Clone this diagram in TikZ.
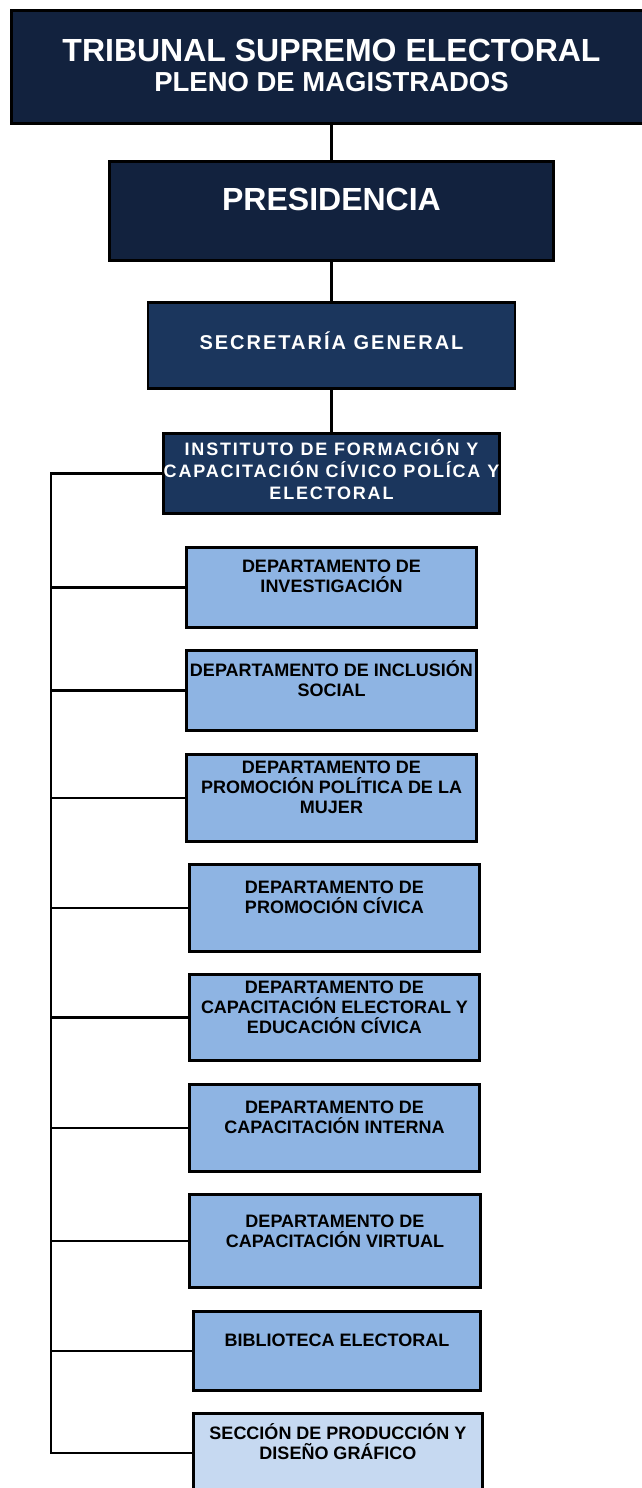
\documentclass[tikz,border=0pt]{standalone}
\usepackage{fontspec}
\setmainfont{Liberation Sans}
\newfontfamily\spacedfont[LetterSpace=10]{Liberation Sans}
\usetikzlibrary{positioning}

\definecolor{navydark}{HTML}{12223E}
\definecolor{navymid}{HTML}{1B365D}
\definecolor{deptblue}{HTML}{8EB4E3}
\definecolor{sectionblue}{HTML}{C6D9F1}

\begin{document}
\begin{tikzpicture}[x=1pt, y=-1pt,
    box/.style={rectangle, draw=black, line width=2.8pt, inner sep=0pt},
    headbox/.style 2 args={box, fill=navydark, minimum width=#1, minimum height=#2},
    unitbox/.style 2 args={box, fill=navymid, minimum width=#1, minimum height=#2},
    deptbox/.style 2 args={box, fill=deptblue, minimum width=#1, minimum height=#2},
    secbox/.style 2 args={box, fill=sectionblue, minimum width=#1, minimum height=#2},
    headtext/.style={anchor=base, align=center, text=white, inner sep=0pt},
    depttext/.style={anchor=base, align=center, inner sep=0pt, font=\fontsize{18}{20}\selectfont\bfseries},
    link/.style={line width=2.8pt}
]
\useasboundingbox (0,0) rectangle (642,1488);

% Direccion
\node[headbox={640pt}{113pt}] (tse) at (331.5,67) {};
\node[headtext, font=\fontsize{32}{30}\selectfont\bfseries] (tsetext) at (331.5,91.5)
    {TRIBUNAL SUPREMO ELECTORAL\\{\fontsize{27.5}{30}\selectfont PLENO DE MAGISTRADOS}};

\node[headbox={444pt}{99pt}] (pres) at (331.5,211) {};
\node[headtext, font=\fontsize{32}{32}\selectfont\bfseries] (prestext) at (331.5,210.5) {PRESIDENCIA};

\node[unitbox={367pt}{86pt}] (sec) at (331.5,345.5) {};
\node[headtext, font=\spacedfont\fontsize{20}{22}\selectfont\bfseries] (sectext) at (331.5,349) {SECRETARÍA GENERAL};

\node[unitbox={336pt}{80pt}] (inst) at (331.5,473.5) {};
\node[headtext, font=\spacedfont\fontsize{18}{22}\selectfont\bfseries] (insttext) at (331.5,499.5)
    {INSTITUTO DE FORMACIÓN Y\\CAPACITACIÓN CÍVICO POLÍCA Y\\ELECTORAL};

% Conexiones verticales
\draw[link] (tse.south) -- (pres.north);
\draw[link] (pres.south) -- (sec.north);
\draw[link] (sec.south) -- (inst.north);

% Departamentos
\node[deptbox={290pt}{80pt}] (d1) at (331.5,587.5) {};
\node[depttext] (t1) at (331.5,592.4) {DEPARTAMENTO DE\\INVESTIGACIÓN};

\node[deptbox={290pt}{80pt}] (d2) at (331.5,690.5) {};
\node[depttext] (t2) at (331.5,696.4) {DEPARTAMENTO DE INCLUSIÓN\\SOCIAL};

\node[deptbox={290pt}{87pt}] (d3) at (331.5,798) {};
\node[depttext] (t3) at (331.5,813.4) {DEPARTAMENTO DE\\PROMOCIÓN POLÍTICA DE LA\\MUJER};

\node[deptbox={290pt}{87pt}] (d4) at (334.5,908) {};
\node[depttext] (t4) at (334.5,913.4) {DEPARTAMENTO DE\\PROMOCIÓN CÍVICA};

\node[deptbox={290pt}{86pt}] (d5) at (334.5,1017.5) {};
\node[depttext] (t5) at (334.5,1033.4) {DEPARTAMENTO DE\\CAPACITACIÓN ELECTORAL Y\\EDUCACIÓN CÍVICA};

\node[deptbox={290pt}{87pt}] (d6) at (334.5,1128) {};
\node[depttext] (t6) at (334.5,1133.4) {DEPARTAMENTO DE\\CAPACITACIÓN INTERNA};

\node[deptbox={291pt}{93pt}] (d7) at (335,1241) {};
\node[depttext] (t7) at (335,1247.4) {DEPARTAMENTO DE\\CAPACITACIÓN VIRTUAL};

\node[deptbox={287pt}{79pt}] (d8) at (337,1351) {};
\node[depttext] (t8) at (337,1346.4) {BIBLIOTECA ELECTORAL};

\node[secbox={289pt}{79pt}] (d9) at (338,1453) {};
\node[depttext] (t9) at (338,1459.4) {SECCIÓN DE PRODUCCIÓN Y\\DISEÑO GRÁFICO};

% Linea lateral
\coordinate (spine) at (51,0);
\draw[link] (inst.west) -| (spine |- d9.west) -- (d9.west);
\foreach \i in {1,...,8}
    \draw[link] (d\i.west) -- (d\i.west -| spine);

\end{tikzpicture}
\end{document}
